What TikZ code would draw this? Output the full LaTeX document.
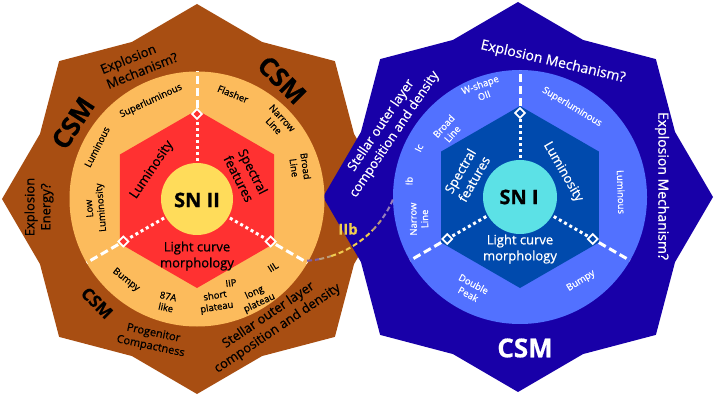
\documentclass[tikz,border=0pt]{standalone}
\usepackage{fontspec}
\setmainfont{Open Sans}[FakeBold=0.7]
\definecolor{brownstar}{RGB}{168,78,18}
\definecolor{orangec}{RGB}{252,187,92}
\definecolor{redhex}{RGB}{255,49,49}
\definecolor{yellowc}{RGB}{255,220,90}
\definecolor{bluestar}{RGB}{24,0,168}
\definecolor{lightblue}{RGB}{82,113,255}
\definecolor{darkhex}{RGB}{0,74,173}
\definecolor{cyanc}{RGB}{92,225,230}
\definecolor{iibyellow}{RGB}{240,205,80}
\definecolor{arcpurple}{RGB}{125,95,170}
\tikzset{
  dashsep/.style={white, line width=3pt, dash pattern=on 8pt off 4pt},
  dotsep/.style={white, line width=3pt, dash pattern=on 3pt off 3pt},
  diam/.style={rectangle, rotate=45, draw=white, line width=1.8pt, minimum size=7pt, inner sep=0pt},
  ring/.style={font=\fontsize{9.5}{11.5}\selectfont, align=center, inner sep=0pt},
  outer/.style={font=\fontsize{13}{16}\selectfont, align=center, inner sep=0pt},
  hexlab/.style={font=\fontsize{13}{16}\selectfont, align=center, inner sep=0pt},
  bigcsm/.style={font=\bfseries\fontsize{26}{28}\selectfont, inner sep=0pt},
  center/.style={font=\bfseries\fontsize{20}{22}\selectfont, inner sep=0pt},
  arcdash/.style={line width=2pt, dash pattern=on 5pt off 3pt}
}
\begin{document}
\begin{tikzpicture}[x=1pt,y=-1pt]
\useasboundingbox (0,0) rectangle (714,395);

% ---------- stars ----------
\begin{scope}[shift={(197,199)}]
  \fill[brownstar] (0:195) \foreach \i in {1,...,15}{ -- ({\i*22.5}:{195-25*mod(\i,2)}) } -- cycle;
\end{scope}
\begin{scope}[shift={(518,197)}]
  \fill[bluestar] (0:195) \foreach \i in {1,...,15}{ -- ({\i*22.5}:{195-25*mod(\i,2)}) } -- cycle;
\end{scope}

% ---------- left figure ----------
\begin{scope}[shift={(197,199)}]
  \fill[orangec] (0,0) circle (127.5);
  \fill[redhex] (30:89) -- (90:89) -- (150:89) -- (210:89) -- (270:89) -- (330:89) -- cycle;
  \foreach \a in {270,150,30} {
    \draw[dotsep] (\a:38) -- (\a:80);
    \draw[dashsep] (\a:91) -- (\a:127.5);
  }
  \fill[yellowc] (0,0) circle (36);
  \node[diam, fill=redhex] (ldA) at (270:85) {};
  \node[diam, fill=redhex] (ldB) at (150:85) {};
  \node[diam, fill=redhex] (ldC) at (30:85) {};
\end{scope}

% ---------- right figure ----------
\begin{scope}[shift={(520,197)}]
  \fill[lightblue] (0,0) circle (127);
  \fill[darkhex] (30:91) -- (90:91) -- (150:91) -- (210:91) -- (270:91) -- (330:91) -- cycle;
  \foreach \a in {270,150,30} {
    \draw[dotsep] (\a:39) -- (\a:80);
    \draw[dashsep] (\a:91) -- (\a:127);
  }
  \fill[cyanc] (0,0) circle (37);
  \node[diam, fill=darkhex] (rdA) at (270:84) {};
  \node[diam, fill=darkhex] (rdB) at (150:84) {};
  \node[diam, fill=darkhex] (rdC) at (30:84) {};
\end{scope}

% ---------- left texts ----------
\node[outer, align=left, rotate=22] (lexm) at (139,63) {Explosion\\Mechanism?};
\node[bigcsm, rotate=-45] (lcsm1) at (282,80) {CSM};
\node[bigcsm, rotate=57] (lcsm2) at (73,123) {CSM};
\node[outer, rotate=90] (lexe) at (39,207) {Explosion\\Energy?};
\node[font=\bfseries\fontsize{17}{19}\selectfont, inner sep=0pt, rotate=-45] (lcsm3) at (97,303) {CSM};
\node[font=\fontsize{11}{13.5}\selectfont, align=center, inner sep=0pt, rotate=-12] (lprog) at (152,340) {Progenitor\\Compactness};
\node[outer, rotate=34] (lstel) at (273,322) {Stellar outer layer\\composition and density};

\node[ring, rotate=25] (lsl) at (151,101) {Superluminous};
\node[ring, rotate=63] (llum) at (97,147) {Luminous};
\node[ring, rotate=95] (llow) at (96,208) {Low\\Luminosity};
\node[ring, rotate=-22] (lfl) at (233,94) {Flasher};
\node[ring, rotate=-47] (lnl) at (278,122) {Narrow\\Line};
\node[ring, rotate=-82] (lbl) at (300,167) {Broad\\Line};
\node[ring, rotate=-38] (lbu) at (126,280) {Bumpy};
\node[ring, rotate=-12] (l87) at (167,302) {87A\\like};
\node[ring, rotate=8] (liip) at (231,283) {IIP};
\node[ring, rotate=9] (lsp) at (216,302) {short\\plateau};
\node[ring, rotate=25] (llp) at (257,298) {long\\plateau};
\node[ring, rotate=32] (liil) at (273,267) {IIL};

\node[hexlab, rotate=56] (lhl) at (152,170) {Luminosity};
\node[hexlab, rotate=-63] (lhs) at (246,175) {Spectral\\features};
\node[hexlab] (lhc) at (197,256) {Light curve\\morphology};
\node[center] (lsn) at (197,200) {SN II};

% ---------- right texts ----------
\begin{scope}[white]
\node[font=\fontsize{14}{16}\selectfont, inner sep=0pt, rotate=-13] (rexm1) at (553,62) {Explosion Mechanism?};
\node[font=\fontsize{14}{16}\selectfont, inner sep=0pt, rotate=-90] (rexm2) at (662,186) {Explosion Mechanism?};
\node[outer, rotate=56] (rstel) at (388,130) {Stellar outer layer\\composition and density};
\node[bigcsm] (rcsm) at (525,348) {CSM};

\node[ring, rotate=20] (rws) at (482,90) {W-shape\\OII};
\node[ring, rotate=48] (rbl) at (448,130) {Broad\\Line};
\node[ring, rotate=64] (ric) at (419,148) {Ic};
\node[ring, rotate=88] (rib) at (409,181) {Ib};
\node[ring, rotate=91] (rnl) at (419,219) {Narrow\\Line};
\node[ring, rotate=-31] (rsl) at (572,107) {Superluminous};
\node[ring, rotate=-88] (rlum) at (621,192) {Luminous};
\node[ring, rotate=-28] (rdp) at (471,289) {Double\\Peak};
\node[ring, rotate=32] (rbu) at (581,281) {Bumpy};

\node[hexlab, rotate=60] (rhs) at (467,175) {Spectral\\features};
\node[hexlab, rotate=-60] (rhl) at (563,172) {Luminosity};
\node[hexlab] (rhc) at (520,249) {Light curve\\morphology};
\end{scope}
\node[center] (rsn) at (519,197) {SN I};

% ---------- IIb link ----------
\foreach \s/\e/\c in {86/79/arcpurple, 79/72/arcpurple!45!iibyellow, 72/44/iibyellow, 44/35/iibyellow!50!arcpurple, 35/23/arcpurple!80!white} {
  \draw[arcdash, draw=\c] (300,160) ++(\s:101) arc (\s:\e:101);
}
\node[font=\bfseries\fontsize{15}{17}\selectfont, text=iibyellow, inner sep=0pt] (iib) at (348,229) {IIb};
\end{tikzpicture}
\end{document}
